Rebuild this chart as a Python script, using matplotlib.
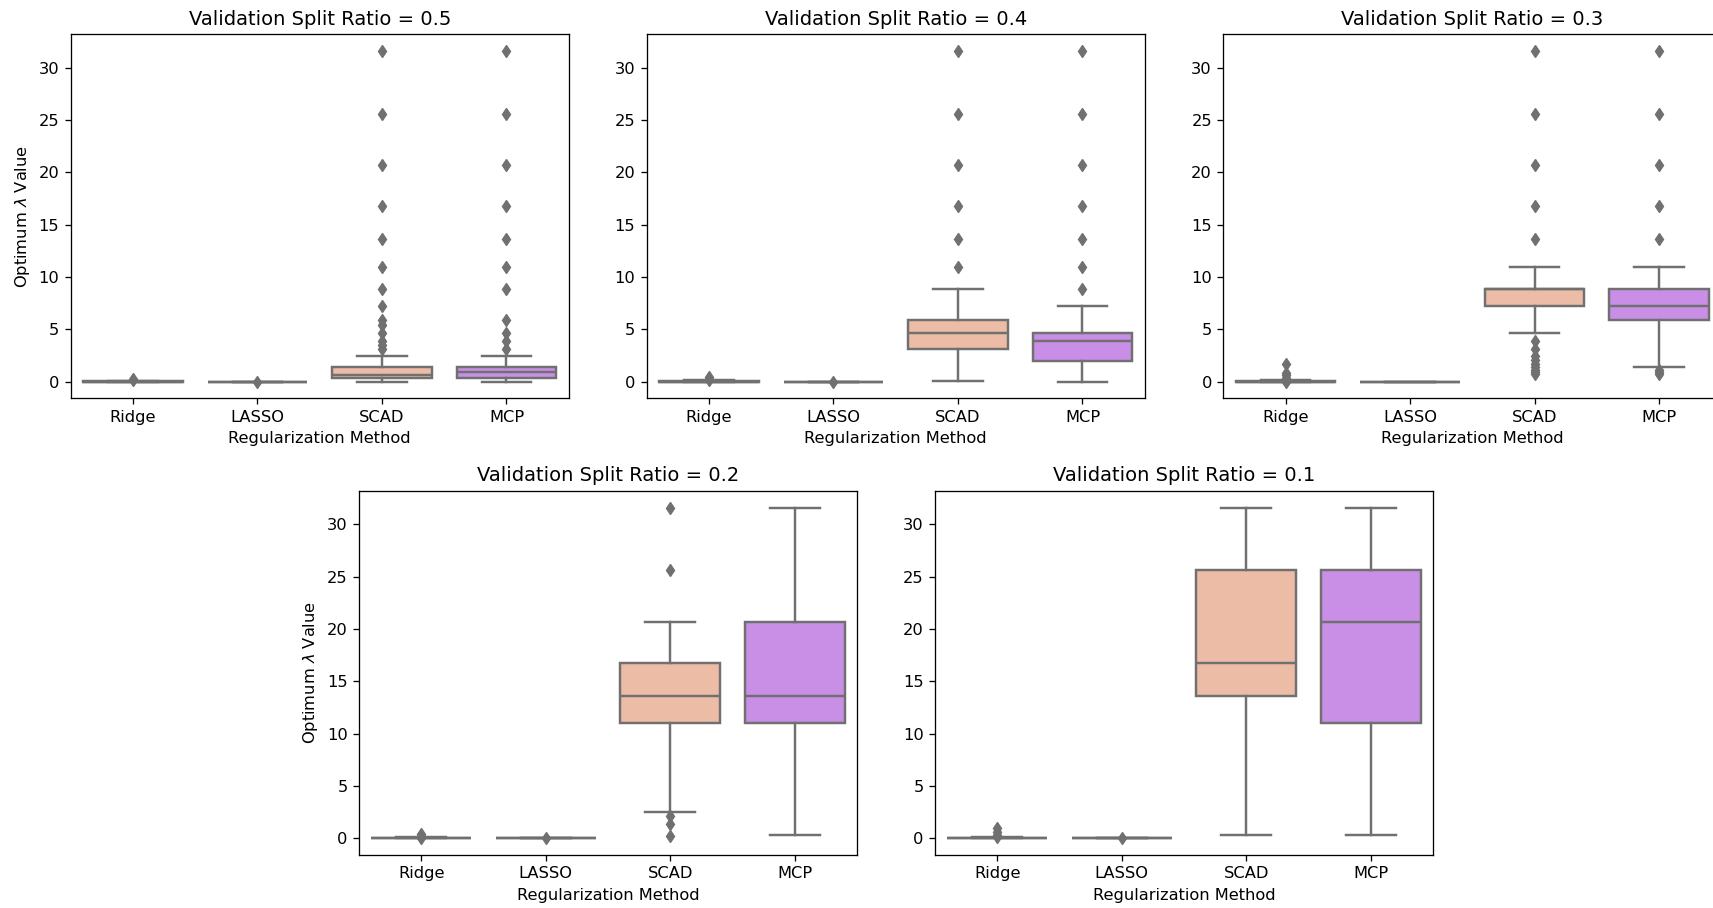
import matplotlib
matplotlib.use("Agg")
import matplotlib.pyplot as plt

# Optimum lambda distributions per validation split ratio, summarised as box statistics
RATIOS = [0.5, 0.4, 0.3, 0.2, 0.1]
METHODS = ["Ridge", "LASSO", "SCAD", "MCP"]

# Five-number summaries, one entry per ratio (0.5 ... 0.1)
RIDGE_LO = [0.0, 0.0, 0.0, 0.0, 0.0]
RIDGE_Q1 = [0.0, 0.0, 0.0, 0.0, 0.0]
RIDGE_MED = [0.0, 0.0, 0.0, 0.0, 0.0]
RIDGE_Q3 = [0.05, 0.1, 0.1, 0.05, 0.05]
RIDGE_HI = [0.1, 0.2, 0.15, 0.1, 0.1]

LASSO_LO = [0.0, 0.0, 0.0, 0.0, 0.0]
LASSO_Q1 = [0.0, 0.0, 0.0, 0.0, 0.0]
LASSO_MED = [0.0, 0.0, 0.0, 0.0, 0.0]
LASSO_Q3 = [0.0, 0.0, 0.0, 0.0, 0.0]
LASSO_HI = [0.0, 0.0, 0.0, 0.0, 0.0]

SCAD_LO = [0.0, 0.1, 4.7, 2.5, 0.35]
SCAD_Q1 = [0.4, 3.1, 7.2, 11.0, 13.6]
SCAD_MED = [0.6, 4.7, 8.9, 13.6, 16.8]
SCAD_Q3 = [1.4, 5.9, 8.9, 16.8, 25.6]
SCAD_HI = [2.5, 8.9, 11.0, 20.7, 31.6]

MCP_LO = [0.0, 0.0, 1.4, 0.35, 0.35]
MCP_Q1 = [0.4, 2.0, 5.9, 11.0, 11.0]
MCP_MED = [0.9, 3.9, 7.2, 13.6, 20.7]
MCP_Q3 = [1.4, 4.7, 8.9, 20.7, 25.6]
MCP_HI = [2.5, 7.2, 11.0, 31.6, 31.6]

# Outlying lambda values per ratio
RIDGE_FLIERS = [
    [0.3, 0.15],
    [0.5, 0.3, 0.15],
    [1.7, 0.8, 0.6, 0.4, 0.25, 0.0],
    [0.4, 0.2, 0.0],
    [1.0, 0.6, 0.3, 0.1],
]
LASSO_FLIERS = [
    [0.01],
    [0.01],
    [],
    [0.01],
    [0.01],
]
SCAD_FLIERS = [
    [31.6, 25.6, 20.7, 16.8, 13.6, 11.0, 8.9, 7.2, 5.9, 5.4, 4.7, 3.9, 3.5, 3.1],
    [31.6, 25.6, 20.7, 16.8, 13.6, 11.0],
    [31.6, 25.6, 20.7, 16.8, 13.6, 3.9, 3.1, 2.5, 2.1, 1.7, 1.4, 1.1, 0.9, 0.75],
    [31.6, 25.6, 2.1, 1.4, 0.2],
    [],
]
MCP_FLIERS = [
    [31.6, 25.6, 20.7, 16.8, 13.6, 11.0, 8.9, 5.9, 4.7, 3.9, 3.1],
    [31.6, 25.6, 20.7, 16.8, 13.6, 11.0, 8.9],
    [31.6, 25.6, 20.7, 16.8, 13.6, 1.1, 0.9, 0.75],
    [],
    [],
]

BOX_COLORS = ["#8fb3d9", "#a6d8a0", "#ecbca7", "#c98ee6"]
LINE_COLOR = "#707070"

W, H = 1713, 908
# axes rectangles in pixels: (left, top, width, height)
PANELS = [
    (70.7, 34.3, 498, 364),
    (646.7, 34.3, 498, 364),
    (1223.3, 34.3, 498, 364),
    (359.0, 491.0, 498, 364),
    (935.0, 491.0, 498, 364),
]

S = 1.17  # overall size scale for text and strokes
plt.rcParams.update({
    "axes.linewidth": 0.8 * S,
    "xtick.major.width": 0.8 * S,
    "ytick.major.width": 0.8 * S,
    "xtick.major.size": 3.5 * S,
    "ytick.major.size": 3.5 * S,
    "xtick.major.pad": 3.5 * S,
    "ytick.major.pad": 3.5 * S,
    "axes.titlepad": 6.0 * S,
    "axes.labelpad": 4.0 * S,
})


def stats_for(i):
    groups = [
        (RIDGE_LO, RIDGE_Q1, RIDGE_MED, RIDGE_Q3, RIDGE_HI, RIDGE_FLIERS),
        (LASSO_LO, LASSO_Q1, LASSO_MED, LASSO_Q3, LASSO_HI, LASSO_FLIERS),
        (SCAD_LO, SCAD_Q1, SCAD_MED, SCAD_Q3, SCAD_HI, SCAD_FLIERS),
        (MCP_LO, MCP_Q1, MCP_MED, MCP_Q3, MCP_HI, MCP_FLIERS),
    ]
    out = []
    for name, (lo, q1, med, q3, hi, fl) in zip(METHODS, groups):
        out.append(dict(label=name, whislo=lo[i], q1=q1[i], med=med[i],
                        q3=q3[i], whishi=hi[i], fliers=fl[i]))
    return out


fig = plt.figure(figsize=(W / 100, H / 100), dpi=100)
lw = 1.5 * S

for i, ratio in enumerate(RATIOS):
    l, t, w, h = PANELS[i]
    ax = fig.add_axes([l / W, (H - t - h) / H, w / W, h / H])
    bp = ax.bxp(
        stats_for(i),
        positions=range(len(METHODS)),
        widths=0.8,
        patch_artist=True,
        boxprops=dict(edgecolor=LINE_COLOR, linewidth=lw),
        whiskerprops=dict(color=LINE_COLOR, linewidth=lw),
        capprops=dict(color=LINE_COLOR, linewidth=lw),
        medianprops=dict(color=LINE_COLOR, linewidth=lw),
        flierprops=dict(marker="d", markersize=6.6, markerfacecolor=LINE_COLOR,
                        markeredgecolor=LINE_COLOR, linestyle="none"),
    )
    for patch, c in zip(bp["boxes"], BOX_COLORS):
        patch.set_facecolor(c)
    ax.set_xlim(-0.5, len(METHODS) - 0.5)
    ax.set_ylim(-1.58, 33.18)
    ax.set_yticks([0, 5, 10, 15, 20, 25, 30])
    ax.set_xticks(range(len(METHODS)))
    ax.set_xticklabels(METHODS)
    ax.tick_params(labelsize=10 * S)
    ax.set_title(f"Validation Split Ratio = {ratio}", fontsize=12 * S)
    ax.set_xlabel("Regularization Method", fontsize=10 * S)
    if i in (0, 3):
        ax.set_ylabel(r"Optimum $\lambda$ Value", fontsize=10 * S)

fig.savefig("out.png", dpi=100)
